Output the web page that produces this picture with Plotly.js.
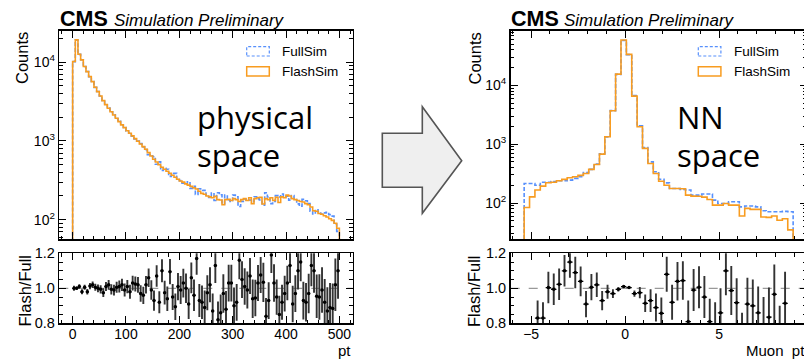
<!DOCTYPE html>
<html>
<head>
<meta charset="utf-8">
<script src="https://cdn.plot.ly/plotly-3.0.1.min.js"></script>
<style>
html,body{margin:0;padding:0;background:#fff;overflow:hidden;width:804px;height:359px;}
#plot{width:830px;height:359px;}
</style>
</head>
<body>
<div id="plot"></div>
<script>
// ---------------- data ----------------
// physical space: pt, 100 bins from 0 to 500
const ptRange = [0, 500];
const ptFlash = [10200,19200,12600,10700,8800,7600,6560,5670,4810,4230,
  3730,3250,2890,2600,2350,2140,1940,1760,1600,1475,
  1350,1255,1160,1070,990,916,847,785,710,645,
  585,540,500,463,437,412,389,367,346,326,
  310,300,285,275,265,255,245,230,216,210,
  200,195,190,198,180,178,155,180,182,175,
  185,180,170,180,185,175,190,160,185,190,
  192,158,185,180,190,175,192,165,195,190,
  205,200,185,180,175,170,168,160,155,145,
  130,128,120,117,112,108,103,98,90,78];
const ptFull = [10180,19150,12580,10750,8780,7620,6540,5690,4790,4240,
  3720,3270,2880,2610,2340,2150,1930,1770,1590,1480,
  1340,1260,1150,1060,1000,925,840,775,670,650,
  630,505,543,421,448,438,355,386,387,323,
  313,291,285,302,250,266,209,247,235,236,
  205,191,218,175,220,207,160,205,177,170,
  205,196,147,171,183,177,178,170,196,184,
  178,153,220,194,160,170,202,194,212,196,
  199,177,203,186,159,148,181,174,160,128,
  118,134,126,118,122,124,116,111,88,71];
const ptRatio = [1.0,1.0,1.01,0.98,1.006,0.98,1.013,1.02,1.006,1.0,
  0.994,0.975,1.01,1.02,0.994,0.99,1.006,1.01,1.02,0.99,
  1.01,0.98,1.03,1.025,1.02,0.97,0.96,1.02,1.06,0.99,
  0.93,1.07,0.92,1.10,0.975,0.94,1.095,0.95,0.895,1.01,
  0.99,1.03,1.0,0.91,1.06,0.96,1.17,0.93,0.92,0.89,
  0.975,1.02,0.87,1.13,0.82,0.86,0.97,0.88,1.03,1.03,
  0.9,0.92,1.16,1.05,1.01,0.99,1.07,0.94,0.945,1.03,
  1.076,1.034,0.84,0.93,1.19,1.03,0.95,0.85,0.92,0.97,
  1.03,1.13,0.91,0.97,1.10,1.15,0.93,0.92,0.97,1.13,
  1.10,0.955,0.95,0.99,0.92,0.87,0.89,0.885,1.02,1.10];
const ptRatioErr = [0.014,0.01,0.013,0.014,0.015,0.016,0.018,0.019,0.02,0.022,
  0.023,0.025,0.026,0.028,0.029,0.031,0.032,0.034,0.035,0.037,
  0.038,0.04,0.042,0.043,0.045,0.047,0.049,0.05,0.053,0.056,
  0.058,0.061,0.063,0.066,0.068,0.07,0.072,0.074,0.076,0.078,
  0.08,0.082,0.084,0.086,0.088,0.09,0.092,0.094,0.096,0.098,
  0.1,0.1,0.1,0.1,0.105,0.105,0.11,0.105,0.105,0.105,
  0.104,0.105,0.108,0.105,0.104,0.106,0.103,0.11,0.104,0.103,
  0.103,0.112,0.104,0.105,0.103,0.107,0.101,0.107,0.1,0.102,
  0.099,0.1,0.104,0.105,0.107,0.11,0.108,0.11,0.113,0.118,
  0.125,0.124,0.13,0.13,0.133,0.136,0.14,0.143,0.15,0.16];

// NN space: 50 bins
const nnRange = [-5.37, 8.94];
const nnFlash = [84,127,166,194,221,226,239,252,269,279,
  295,318,373,453,679,1337,3700,15560,59000,33650,
  6580,1977,849,471,318,235,201,177,177,175,
  136,131,130,126,115,92,92,98,92,92,
  60,81,78,78,58,57,60,51,54,35];
const nnFull = [215,215,201,226,226,232,239,239,245,262,
  279,330,373,460,690,1330,3720,15400,58000,33400,
  6700,2050,880,500,340,253,220,177,177,170,
  166,136,136,142,142,112,98,98,105,105,
  86,89,89,86,74,71,71,71,72,71];
const nnRatio = [0.39,0.59,0.83,0.83,1.004,0.994,1.023,1.10,1.15,1.09,
  1.04,0.91,1.006,1.02,0.93,0.98,0.97,0.994,1.01,1.004,
  0.97,0.975,0.914,0.93,0.89,0.857,1.08,0.92,1.04,1.044,
  0.81,0.99,1.006,0.95,0.81,0.78,0.86,1.10,0.987,0.918,
  0.70,0.91,0.90,0.86,0.78,0.835,0.966,0.72,0.914,0.49];
const nnRatioErr = [0.1,0.09,0.1,0.09,0.09,0.09,0.09,0.09,0.09,0.09,
  0.085,0.075,0.075,0.07,0.055,0.04,0.025,0.012,0.006,0.008,
  0.018,0.032,0.05,0.065,0.08,0.09,0.1,0.1,0.11,0.11,
  0.12,0.12,0.12,0.12,0.13,0.14,0.14,0.14,0.14,0.14,
  0.16,0.15,0.15,0.15,0.17,0.17,0.17,0.18,0.18,0.2];

const legendNames = ["FullSim", "FlashSim"];
const logTickVals = [100, 1000, 10000];
const logTickText = ["10<sup>2</sup>", "10<sup>3</sup>", "10<sup>4</sup>"];

// ---------------- helpers ----------------
const W = 830, H = 359;
const px = x => x / W;
const py = y => 1 - y / H;
const BLUE = "#5790fc", ORANGE = "#f89c20";

function edges(r, n){ const e=[]; for(let i=0;i<=n;i++) e.push(r[0]+(r[1]-r[0])*i/n); return e; }
function centers(r, n){ const c=[]; for(let i=0;i<n;i++) c.push(r[0]+(r[1]-r[0])*(i+0.5)/n); return c; }
function stepTrace(r, vals, color, dash, xa, ya){
  const e = edges(r, vals.length);
  const xs=[e[0]], ys=[1e-3];
  for(let i=0;i<vals.length;i++){ xs.push(e[i]); ys.push(vals[i]); }
  xs.push(e[vals.length]); ys.push(vals[vals.length-1]);
  xs.push(e[vals.length]); ys.push(1e-3);
  return {x:xs, y:ys, type:"scatter", mode:"lines", line:{shape:"hv", color:color, width:1.6, dash:dash},
    xaxis:xa, yaxis:ya, hoverinfo:"skip", showlegend:false};
}
function ratioTrace(r, vals, errs, xa, ya){
  const n = vals.length;
  return {x:centers(r,n), y:vals, type:"scatter", mode:"markers",
    marker:{color:"#000", size:3.5},
    error_y:{type:"data", array:errs, visible:true, color:"#333", thickness:1.9, width:0},
    error_x:{type:"constant", value:(r[1]-r[0])/n/2, visible:true, color:"#000", thickness:1.2, width:0},
    xaxis:xa, yaxis:ya, showlegend:false, hoverinfo:"skip", cliponaxis:true};
}
const minorLog = [];
for (let d=1; d<=100000; d*=10) for (let m=2; m<=9; m++) minorLog.push(d*m);

const FONT = "Liberation Sans, Arial, sans-serif";
function xAx(domain, range, dtick, minor, anchor, labels){
  return {domain:domain, range:range, anchor:anchor, tick0:0, dtick:dtick, ticks:"inside", ticklen:7, tickwidth:1,
    tickcolor:"#000", showticklabels:labels, tickfont:{family:FONT, size:14, color:"#000"}, ticklabelstandoff:-3,
    minor:{dtick:minor, tick0:0, ticks:"inside", ticklen:3.5, tickwidth:1, tickcolor:"#000"},
    showline:true, linewidth:1.6, linecolor:"#000", mirror:"allticks", showgrid:false, zeroline:false};
}
function yLog(domain, range, anchor){
  return {type:"log", domain:domain, range:range, anchor:anchor, tickmode:"array", tickvals:logTickVals, ticktext:logTickText,
    ticks:"inside", ticklen:7, tickwidth:1, tickcolor:"#000", tickfont:{family:FONT, size:14, color:"#000"},
    minor:{tickmode:"array", tickvals:minorLog, ticks:"inside", ticklen:3.5, tickwidth:1, tickcolor:"#000"},
    showline:true, linewidth:1.6, linecolor:"#000", mirror:"allticks", showgrid:false, zeroline:false};
}
function yRatio(domain, anchor){
  return {domain:domain, range:[0.8,1.2], anchor:anchor, tickmode:"array", tickvals:[0.8,1.0,1.2], ticktext:["0.8","1.0","1.2"],
    ticks:"inside", ticklen:7, tickwidth:1, tickcolor:"#000", tickfont:{family:FONT, size:14.5, color:"#000"},
    minor:{dtick:0.05, tick0:0.8, ticks:"inside", ticklen:3.5, tickwidth:1, tickcolor:"#000"},
    showline:true, linewidth:1.6, linecolor:"#000", mirror:"allticks", showgrid:false, zeroline:false};
}

const traces = [
  stepTrace(ptRange, ptFull, BLUE, "4px,2px", "x", "y"),
  stepTrace(ptRange, ptFlash, ORANGE, "solid", "x", "y"),
  ratioTrace(ptRange, ptRatio, ptRatioErr, "x2", "y2"),
  stepTrace(nnRange, nnFull, BLUE, "4px,2px", "x3", "y3"),
  stepTrace(nnRange, nnFlash, ORANGE, "solid", "x3", "y3"),
  ratioTrace(nnRange, nnRatio, nnRatioErr, "x4", "y4")
];

const Lx = [px(59.3), px(352.7)], Rx = [px(510.7), px(806.6)];
const mainY = [py(239.3), py(30.7)], ratY = [py(323.3), py(253.3)];

function ann(text, x, y, opts){
  return Object.assign({text:text, x:px(x), y:py(y), xref:"paper", yref:"paper", showarrow:false,
    xanchor:"left", yanchor:"middle", font:{family:FONT, size:14, color:"#000"}}, opts||{});
}
const annotations = [];
const shapes = [];
[[60, 112.7, 22.5, 246.7, 352.7, "pt", 196.7, "physical", 24.5],
 [511, 563.3, 475, 698.3, 806.6, "Muon\u00a0\u00a0pt", 676.7, "NN", 474]].forEach((p, i) => {
  annotations.push(ann("<b>CMS</b>", p[0]-2, 19.5, {font:{family:FONT, size:21.5, color:"#000"}}));
  annotations.push(ann("<i>Simulation Preliminary</i>", p[1]-1, 20.5, {font:{family:FONT, size:17, color:"#000"}}));
  annotations.push(ann("Counts", p[2], 58.5, {textangle:-90, xanchor:"center", font:{family:FONT, size:16.5, color:"#000"}}));
  annotations.push(ann("Flash/Full", p[8], 291, {textangle:-90, xanchor:"center", font:{family:FONT, size:16.5, color:"#000"}}));
  annotations.push(ann(p[5], p[4], 350, {xanchor:"right", font:{family:FONT, size:15, color:"#000"}}));
  annotations.push(ann(legendNames[0], p[3]+33.5, 51.5, {font:{family:FONT, size:13.5, color:"#000"}}));
  annotations.push(ann(legendNames[1], p[3]+33.5, 71.5, {font:{family:FONT, size:13.5, color:"#000"}}));
  annotations.push(ann(p[7], p[6]-2, 117, {font:{family:"Open Sans, sans-serif", size:31, color:"#000"}}));
  annotations.push(ann("space", p[6]-2, 155, {font:{family:"Open Sans, sans-serif", size:31, color:"#000"}}));
  shapes.push({type:"rect", xref:"paper", yref:"paper", x0:px(p[3]), x1:px(p[3]+22.6), y0:py(56), y1:py(46.7),
    line:{color:BLUE, width:1.2, dash:"3px,2px"}, fillcolor:"rgba(0,0,0,0)"});
  shapes.push({type:"rect", xref:"paper", yref:"paper", x0:px(p[3]), x1:px(p[3]+22.6), y0:py(76), y1:py(66.7),
    line:{color:ORANGE, width:1.5}, fillcolor:"rgba(0,0,0,0)"});
});
shapes.push({type:"line", xref:"x2 domain", yref:"y2", x0:0, x1:1, y0:1, y1:1, layer:"below", line:{color:"#999", width:1.2, dash:"dash"}});
shapes.push({type:"line", xref:"x4 domain", yref:"y4", x0:0, x1:1, y0:1, y1:1, layer:"below", line:{color:"#999", width:1.2, dash:"dash"}});
// arrow between panels
const arrowPts = [[382.3,133.3],[422.3,133.3],[422.3,106.7],[461.7,160.7],[422.3,213.3],[422.3,187.3],[382.3,187.3]];
shapes.push({type:"path", xref:"paper", yref:"paper",
  path: "M" + arrowPts.map(p => px(p[0]).toFixed(5) + "," + py(p[1]).toFixed(5)).join(" L") + " Z",
  fillcolor:"#efefef", line:{color:"#555", width:1.6}});

const layout = {
  width:W, height:H, margin:{l:0, r:0, t:0, b:0}, paper_bgcolor:"#fff", plot_bgcolor:"#fff",
  showlegend:false, font:{family:FONT, color:"#000"},
  xaxis: xAx(Lx, [-25,525], 100, 20, "y", false),
  yaxis: yLog(mainY, [1.751, 4.40], "x"),
  xaxis2: xAx(Lx, [-25,525], 100, 20, "y2", true),
  yaxis2: yRatio(ratY, "x2"),
  xaxis3: xAx(Rx, [-6.086, 9.656], 5, 1, "y3", false),
  yaxis3: yLog(mainY, [1.383, 4.93], "x3"),
  xaxis4: xAx(Rx, [-6.086, 9.656], 5, 1, "y4", true),
  yaxis4: yRatio(ratY, "x4"),
  annotations: annotations, shapes: shapes
};
Plotly.newPlot("plot", traces, layout, {staticPlot:true, displayModeBar:false});
</script>
</body>
</html>
